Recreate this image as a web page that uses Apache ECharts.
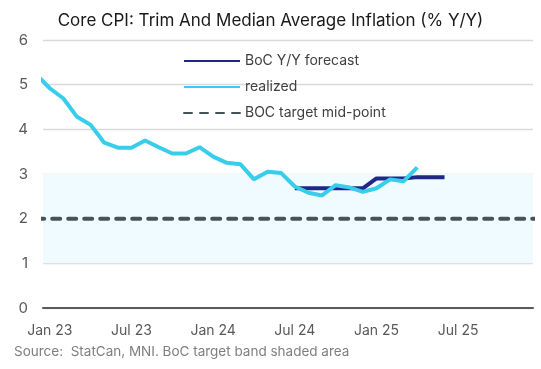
<!DOCTYPE html>
<html>
<head>
<meta charset="utf-8">
<script src="https://cdn.jsdelivr.net/npm/echarts@6/dist/echarts.min.js"></script>
<style>
html,body{margin:0;padding:0;background:#fff;}
#c{width:541px;height:369px;}
</style>
</head>
<body>
<div id="c"></div>
<script>
// Month categories (index 0 = Jan 23)
const months = [
  'Jan 23','Feb 23','Mar 23','Apr 23','May 23','Jun 23','Jul 23','Aug 23','Sep 23','Oct 23','Nov 23','Dec 23',
  'Jan 24','Feb 24','Mar 24','Apr 24','May 24','Jun 24','Jul 24','Aug 24','Sep 24','Oct 24','Nov 24','Dec 24',
  'Jan 25','Feb 25','Mar 25','Apr 25','May 25','Jun 25','Jul 25','Aug 25','Sep 25','Oct 25','Nov 25','Dec 25'
];
const xTickLabels = ['Jan 23','Jul 23','Jan 24','Jul 24','Jan 25','Jul 25'];
const yTicks = [0,1,2,3,4,5,6];

// Realized: Dec 22 (just before the axis start, clipped) through Apr 25
const realizedStart = -1; // Dec 22
const realized = [5.23, 4.92, 4.69, 4.28, 4.10, 3.70, 3.59, 3.59, 3.75, 3.60, 3.46, 3.46, 3.60,
                  3.39, 3.25, 3.22, 2.88, 3.05, 3.02, 2.72, 2.58, 2.52, 2.75, 2.70, 2.60,
                  2.68, 2.88, 2.84, 3.15];

// BoC forecast: Jul 24 through Jun 25
const forecastStart = 18; // Jul 24
const forecast = [2.68, 2.68, 2.68, 2.68, 2.68, 2.68, 2.90, 2.90, 2.90, 2.93, 2.93, 2.93];

const targetMid = 2;
const targetBand = [1, 3];

const names = ['BoC Y/Y forecast', 'realized', 'BOC target mid-point'];

function toPairs(start, arr) { return arr.map((v, i) => [start + i, v]); }
const targetData = [];
for (let i = -1; i <= months.length; i++) targetData.push([i, targetMid]);

const chart = echarts.init(document.getElementById('c'), null, {renderer: 'canvas'});
const font = 'Inter, "Noto Sans", sans-serif';
chart.setOption({
  animation: false,
  title: {
    text: 'Core CPI: Trim And Median Average Inflation (% Y/Y)',
    left: 'center', top: 7,
    textStyle: {fontFamily: font, fontSize: 17, fontWeight: 'normal', color: '#1a1a1a'}
  },
  grid: {left: 43, right: 8, top: 40, bottom: 61},
  legend: {
    orient: 'vertical', left: 178, top: 49,
    itemWidth: 56, itemHeight: 14, itemGap: 12,
    data: names,
    itemStyle: {opacity: 0},
    textStyle: {fontFamily: font, fontSize: 14, color: '#404040', lineHeight: 14}
  },
  xAxis: {
    type: 'value', min: -0.5, max: months.length - 0.5,
    splitLine: {show: false},
    axisTick: {show: false},
    axisLine: {show: true, onZero: false, lineStyle: {color: '#595959', width: 2}},
    axisLabel: {
      customValues: xTickLabels.map(l => months.indexOf(l)),
      formatter: v => months[Math.round(v)] || '',
      fontFamily: font, fontSize: 14, color: '#595959', margin: 16
    }
  },
  yAxis: {
    type: 'value', min: yTicks[0], max: yTicks[yTicks.length - 1], interval: 1,
    axisLine: {show: false}, axisTick: {show: false},
    splitLine: {lineStyle: {color: '#d9d9d9', width: 1.3}},
    axisLabel: {fontFamily: font, fontSize: 15, color: '#595959', margin: 15}
  },
  series: [
    {
      name: 'band', type: 'line', data: [], z: -1, silent: true,
      markArea: {
        silent: true,
        itemStyle: {color: '#effbfe'},
        data: [[{yAxis: targetBand[0]}, {yAxis: targetBand[1]}]]
      }
    },
    {
      name: names[2], type: 'line', data: targetData, symbol: 'none', z: 3,
      lineStyle: {color: '#46535a', width: 4, type: [8, 8], cap: 'round'},
      itemStyle: {color: '#46535a'}
    },
    {
      name: names[0], type: 'line', data: toPairs(forecastStart, forecast), symbol: 'none', z: 4,
      lineStyle: {color: '#1e2888', width: 4},
      itemStyle: {color: '#1e2888'}
    },
    {
      name: names[1], type: 'line', data: toPairs(realizedStart, realized), symbol: 'none', z: 5,
      lineStyle: {color: '#38cdea', width: 4},
      itemStyle: {color: '#38cdea'}
    }
  ],
  graphic: [{
    type: 'text', left: 14, top: 345,
    style: {text: 'Source:  StatCan, MNI. BoC target band shaded area', fontFamily: font, fontSize: 13.5, fill: '#7f7f7f'}
  }]
});
</script>
</body>
</html>
